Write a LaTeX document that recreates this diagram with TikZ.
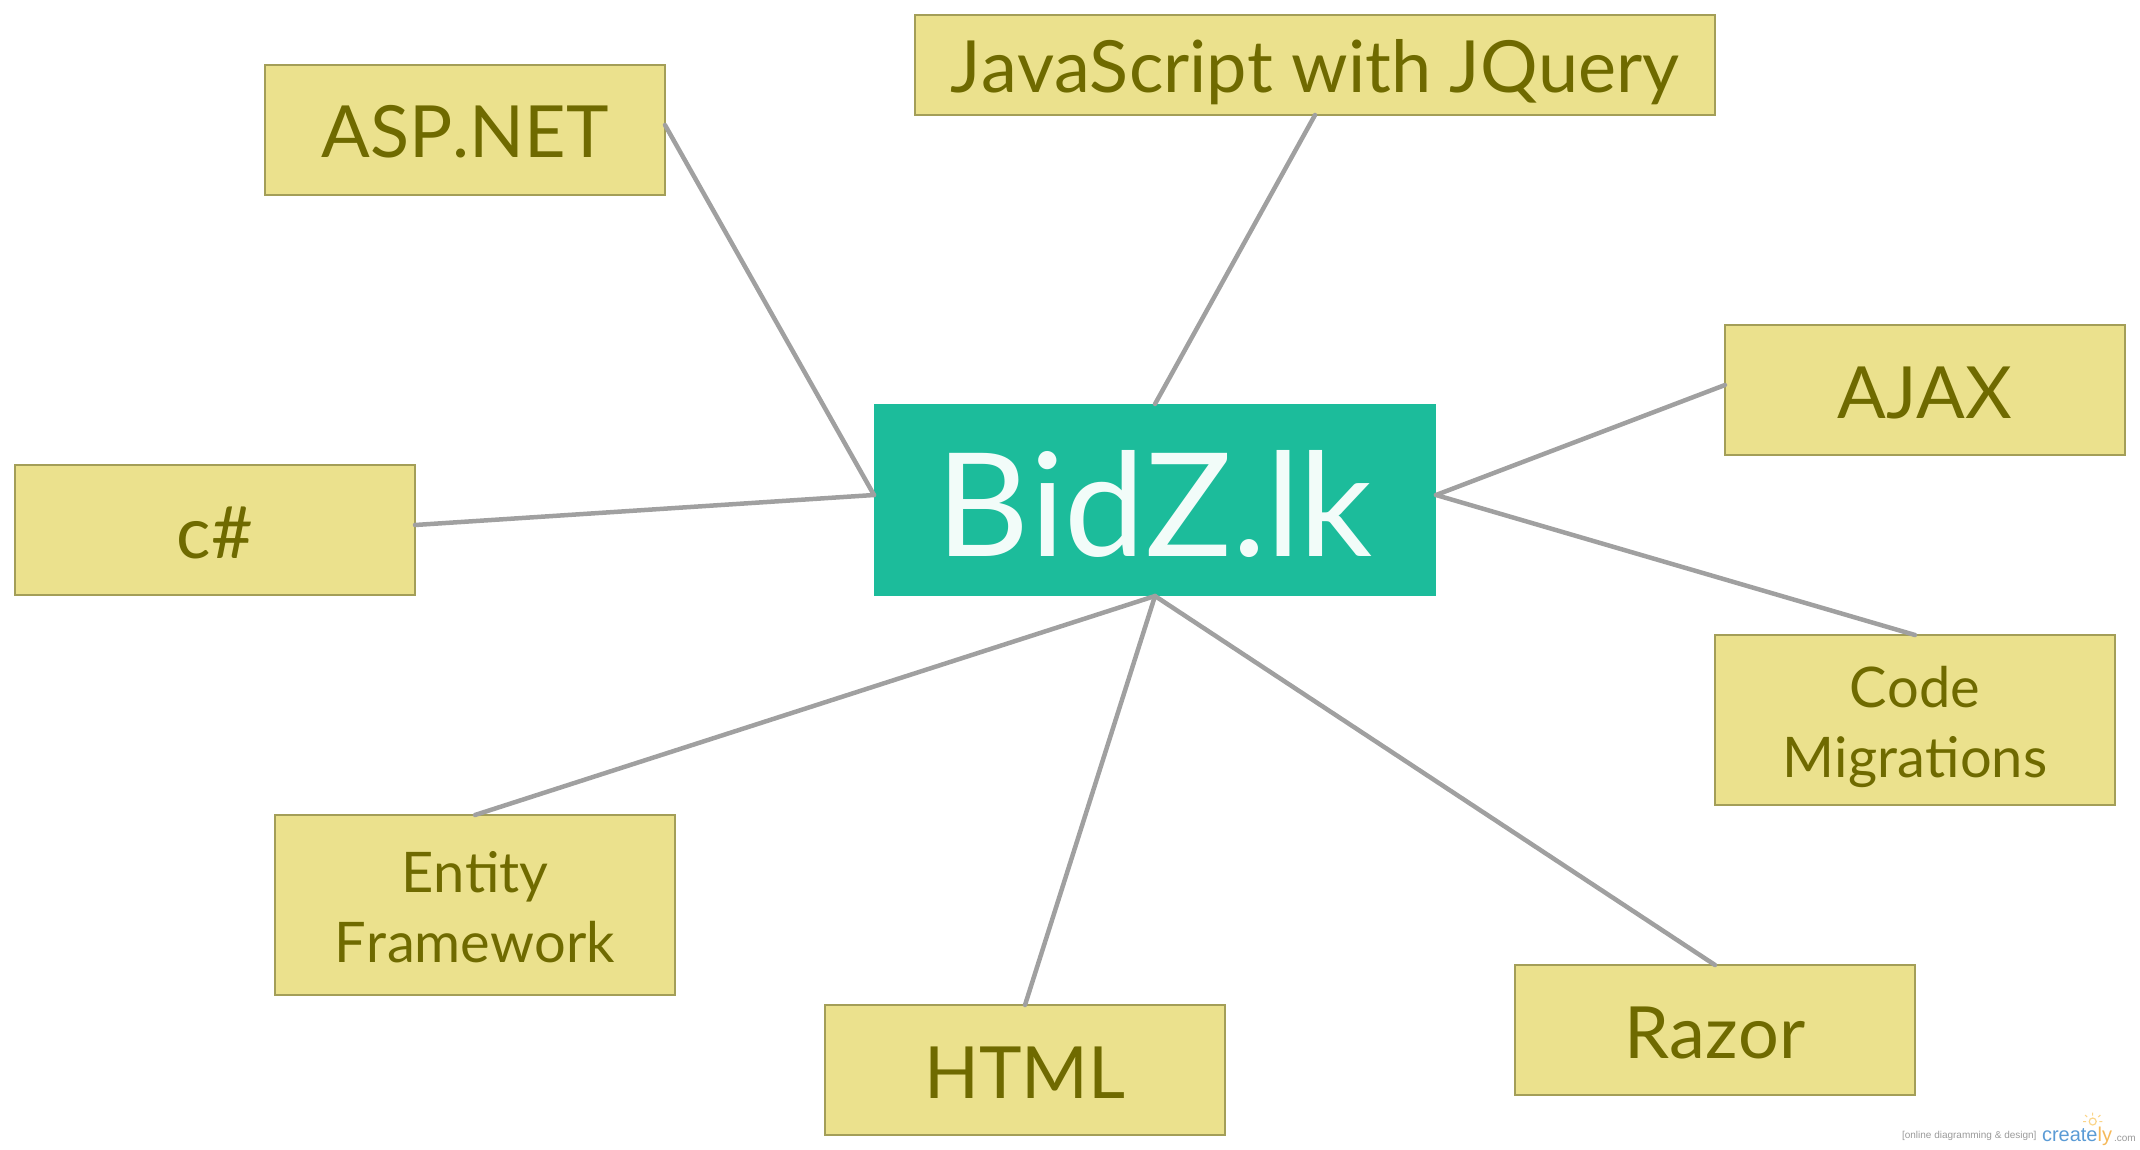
\documentclass[tikz,border=0pt]{standalone}
\usepackage{fontspec}
\setmainfont{Lato}[Kerning=Off]
\newfontfamily\wmfont{Liberation Sans}
\definecolor{boxfill}{HTML}{EBE18D}
\definecolor{boxline}{HTML}{A39E58}
\definecolor{boxtext}{HTML}{6F6A00}
\definecolor{mainfill}{HTML}{1CBC9B}
\definecolor{maintext}{HTML}{F2FCF9}
\definecolor{linkgray}{HTML}{A0A0A0}
\definecolor{wmgray}{HTML}{9A9A9A}
\definecolor{wmblue}{HTML}{5B9BD5}
\definecolor{wmorange}{HTML}{F5B95A}
\definecolor{wmbulb}{HTML}{FBD58A}
% two centred lines, their baselines 13pt above and 57pt below the node centre
\newcommand\twoline[2]{\raisebox{0pt}[114pt][0pt]{\makebox[0pt]{\raisebox{70pt}{#1}}\makebox[0pt]{#2}}}
\tikzset{
  topic/.style={draw=boxline,fill=boxfill,line width=2pt,text=boxtext,inner sep=0pt,outer sep=0pt,minimum width=400pt},
  bigtopic/.style={topic,font=\fontsize{72}{72}\selectfont,text height=56pt,text depth=0pt},
  smalltopic/.style={topic,font=\fontsize{56}{70}\selectfont},
  hub/.style={fill=mainfill,text=maintext,inner sep=0pt,outer sep=0pt,minimum width=562pt,minimum height=192pt,font=\fontsize{144}{144}\selectfont,text height=112pt,text depth=0pt},
  link/.style={draw=linkgray,line width=4.5pt,line cap=round},
  up/.style={yshift=5pt},
  wm/.style={inner sep=0pt,outer sep=0pt,anchor=base west}
}
\begin{document}
\begin{tikzpicture}[x=1pt,y=-1pt]
\useasboundingbox (0,0) rectangle (2140,1150);
\node[hub] (main) at (1155,500) {BidZ.lk};
\node[bigtopic,minimum height=130pt] (asp) at (465,130) {ASP.NET};
\node[bigtopic,minimum width=800pt,minimum height=100pt] (js) at (1315,65) {JavaScript with JQuery};
\node[bigtopic,minimum height=130pt] (ajax) at (1925,390) {AJAX};
\node[bigtopic,minimum height=130pt] (cs) at (215,530) {c\#};
\node[smalltopic,minimum height=170pt] (code) at (1915,720) {\twoline{Code}{Migrations}};
\node[smalltopic,minimum height=180pt] (entity) at (475,905) {\twoline{Entity}{Framework}};
\node[bigtopic,minimum height=130pt] (html) at (1025,1070) {HTML};
\node[bigtopic,minimum height=130pt] (razor) at (1715,1030) {Razor};
\draw[link] ([up]asp.east) -- ([up]main.west);
\draw[link] ([up]cs.east) -- ([up]main.west);
\draw[link] (js.south) -- (main.north);
\draw[link] ([up]ajax.west) -- ([up]main.east);
\draw[link] (code.north) -- ([up]main.east);
\draw[link] (entity.north) -- (main.south);
\draw[link] (html.north) -- (main.south);
\draw[link] (razor.north) -- (main.south);
\node[wm,text=wmgray,font=\wmfont\fontsize{10}{10}\selectfont] (wmtag) at (1902,1138) {[online diagramming \& design]};
\node[wm,font=\wmfont\fontsize{20}{20}\selectfont] (wmlogo) at (2042,1141) {\textcolor{wmblue}{create}\textcolor{wmorange}{ly}};
\node[wm,text=wmgray,font=\wmfont\fontsize{10}{10}\selectfont] (wmcom) at (2114,1141) {.com};
\draw[wmbulb,line width=1.2pt] (2092.7,1121.5) circle (3.5pt);
\draw[wmbulb,line width=1pt] (2092.7,1112.5) -- (2092.7,1115.5) (2085,1115) -- (2087.2,1117) (2100.4,1115) -- (2098.2,1117) (2083,1121.5) -- (2086,1121.5) (2102.4,1121.5) -- (2099.4,1121.5);
\end{tikzpicture}
\end{document}
